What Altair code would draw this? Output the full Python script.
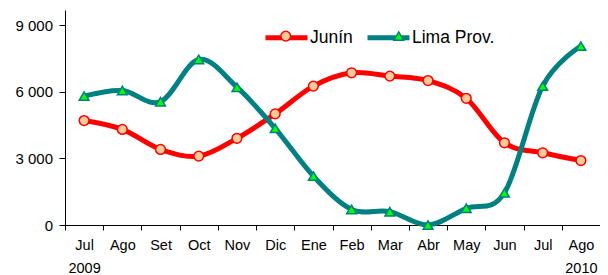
import altair as alt
import pandas as pd

meses = ["Jul_2009", "Ago", "Set", "Oct", "Nov", "Dic", "Ene", "Feb", "Mar",
         "Abr", "May", "Jun", "Jul", "Ago_2010"]
junin = [4700, 4300, 3400, 3100, 3900, 5000, 6250, 6850, 6700, 6500, 5700, 3700, 3250, 2900]
lima = [5800, 6050, 5550, 7450, 6200, 4350, 2200, 700, 600, 0, 750, 1450, 6250, 8050]
series = ["Junín", "Lima Prov."]
y_ticks = [0, 3000, 6000, 9000]

line_colors = ["#FF0000", "#008080"]
fill_colors = ["#FFCC99", "#00FF00"]
shapes = ["circle", "triangle-up"]

rows = []
for s, vals in zip(series, [junin, lima]):
    for i, (m, v) in enumerate(zip(meses, vals)):
        rows.append({"mes": m, "valor": v, "serie": s, "serie2": s, "orden": i})
df = pd.DataFrame(rows)

FONT = "Liberation Sans"
LEG_FS = 17.5

x = alt.X("mes:N", sort=meses,
          scale=alt.Scale(type="band", paddingInner=0, paddingOuter=0),
          axis=alt.Axis(title=None, labelAngle=0, tickBand="extent",
                        labelExpr="split(datum.label, '_')",
                        labelFont=FONT, labelFontSize=14.5, labelColor="black",
                        labelLineHeight=23, labelPadding=8,
                        tickSize=5, tickColor="black", domainColor="black",
                        grid=False))
y = alt.Y("valor:Q",
          scale=alt.Scale(domain=[0, 9675], nice=False),
          axis=alt.Axis(title=None, values=y_ticks,
                        labelExpr="replace(format(datum.value, ','), ',', ' ')",
                        labelFont=FONT, labelFontSize=15, labelColor="black",
                        labelPadding=6.5, tickSize=6, tickColor="black",
                        domainColor="black", grid=False))

base = alt.Chart(df)

lines = base.mark_line(strokeWidth=5, interpolate="cardinal").encode(
    x=x, y=y,
    color=alt.Color("serie:N",
                    scale=alt.Scale(domain=series, range=line_colors),
                    legend=alt.Legend(title=None, orient="none", direction="horizontal",
                                      legendX=198, legendY=4,
                                      symbolType="stroke", symbolSize=1764,
                                      symbolStrokeWidth=5,
                                      labelFont=FONT, labelFontSize=LEG_FS,
                                      labelColor="black", labelOffset=0,
                                      columnPadding=4)),
    order="orden:Q",
)

pt_legend = alt.Legend(title=None, orient="none", direction="horizontal",
                       legendX=212, legendY=17,
                       symbolSize=95, symbolStrokeWidth=1.5,
                       labelFont=FONT, labelFontSize=LEG_FS,
                       labelExpr="''", labelOffset=2, columnPadding=93)

points = base.mark_point(opacity=1, fillOpacity=1, strokeWidth=1.5, size=95).encode(
    x=x, y=y,
    shape=alt.Shape("serie2:N", scale=alt.Scale(range=shapes), legend=pt_legend),
    fill=alt.Fill("serie2:N", scale=alt.Scale(range=fill_colors), legend=pt_legend),
    stroke=alt.Stroke("serie2:N", scale=alt.Scale(range=line_colors), legend=pt_legend),
)

chart = alt.layer(lines, points).properties(
    width=535, height=215,
    autosize=alt.AutoSizeParams(type="none"),
    padding={"left": 57, "top": 2, "right": 0, "bottom": 55},
).configure_view(stroke=None)

chart.save("out.html", embed_options={"renderer": "svg", "actions": False})
